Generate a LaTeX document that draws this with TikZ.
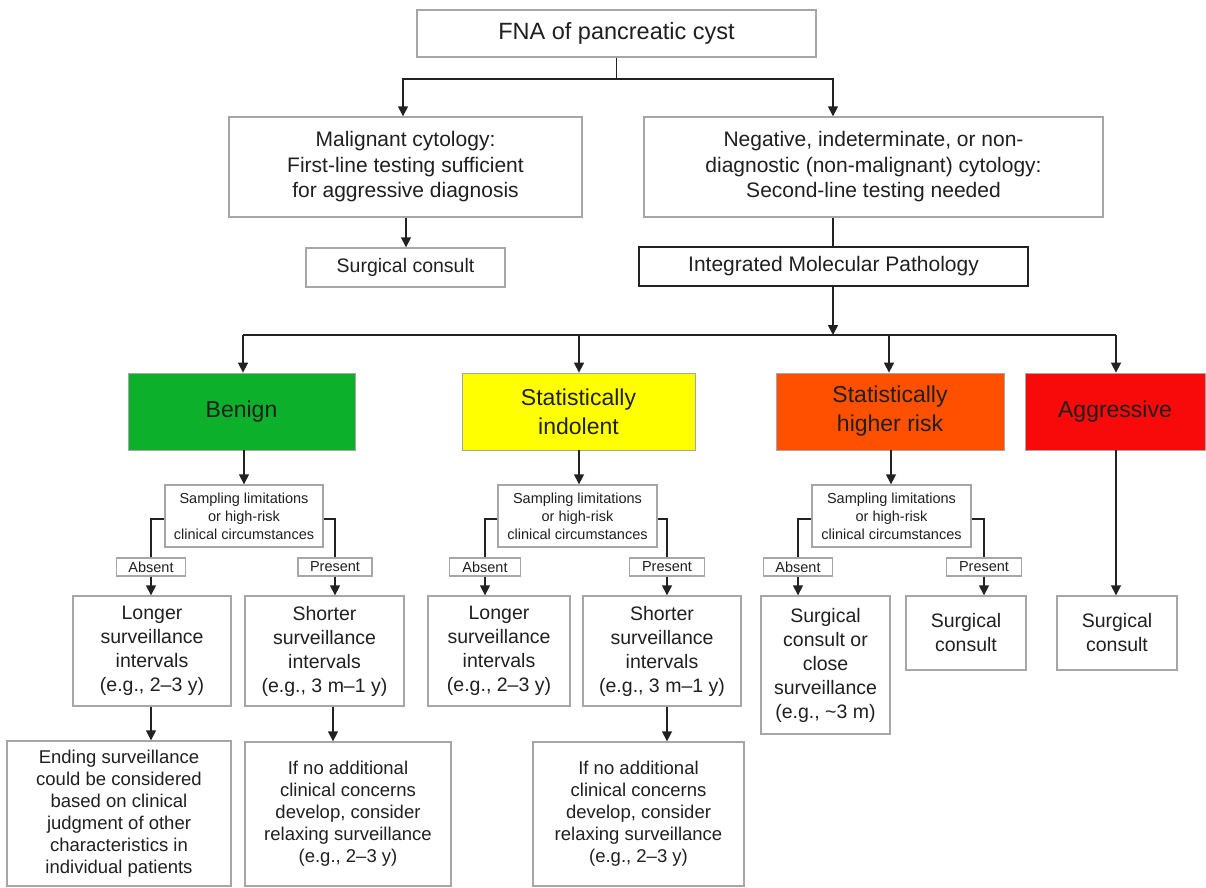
\documentclass[tikz,border=0pt]{standalone}
\usepackage{fontspec}
\setmainfont{Liberation Sans}
\usetikzlibrary{arrows.meta}
\definecolor{bord}{HTML}{A6A6A6}
\definecolor{txt}{HTML}{202020}
\definecolor{benigncol}{HTML}{0CB02A}
\definecolor{indolcol}{HTML}{FFFF00}
\definecolor{highcol}{HTML}{FF5000}
\definecolor{aggrcol}{HTML}{F80A0A}
\definecolor{linecol}{HTML}{222222}
\begin{document}
\begin{tikzpicture}[x=1pt,y=-1pt,
  box/.style={draw=bord, line width=1.4pt, fill=white, align=center, inner sep=0pt, text=txt},
  col/.style={draw=black!35, line width=0.8pt, align=center, inner sep=0pt, text=txt, font=\fontsize{23}{29}\selectfont},
  sz/.style 2 args={minimum width=#1pt, minimum height=#2pt},
  fA/.style={font=\fontsize{23.5}{28}\selectfont},
  fB/.style={font=\fontsize{21}{25.5}\selectfont},
  fC/.style={font=\fontsize{19.5}{24}\selectfont},
  fD/.style={font=\fontsize{18.5}{22}\selectfont},
  fS/.style={font=\fontsize{14.5}{18}\selectfont},
  conn/.style={draw=linecol, line width=1.6pt},
  arr/.style={conn, -{Triangle[width=10pt,length=10pt]}}
]
\fill[white] (0,0) rectangle (1206,887);
\useasboundingbox (0,0) rectangle (1206,887);

% top
\node[box,fA,sz={399}{47}] (fna) at (616.5,33.5) {FNA of pancreatic cyst};
\node[box,fB,sz={353}{100}] (mal) at (405.5,167) {Malignant cytology:\\First-line testing sufficient\\for aggressive diagnosis};
\node[box,fB,sz={459}{100}] (neg) at (873.5,167) {Negative, indeterminate, or non-\\diagnostic (non-malignant) cytology:\\Second-line testing needed};
\node[box,fC,sz={199}{39}] (surg) at (405.5,267.5) {Surgical consult};
\node[box,fB,draw=linecol,sz={389}{39}] (imp) at (833.5,266.5) {Integrated Molecular Pathology};

\coordinate (jl) at (403,79);
\coordinate (jr) at (833,79);
\coordinate (jm) at (406,0);
\draw[arr] (fna.south) |- (jl) -- (jl |- mal.north);
\draw[arr] (fna.south) |- (jr) -- (jr |- neg.north);
\draw[arr] (jm |- mal.south) -- (jm |- surg.north);
\draw[conn] (jr |- neg.south) -- (jr |- imp.north);

% category boxes
\node[col,fill=benigncol,sz={227}{77}] (ben) at (241.5,411.5) {Benign};
\node[col,fill=indolcol,sz={233}{77}] (ind) at (578.5,411.5) {Statistically\\indolent};
\node[col,fill=highcol,sz={228}{77}] (hig) at (890,411.5) {Statistically\\higher risk};
\node[col,fill=aggrcol,sz={180}{77}] (agg) at (1115,411.5) {Aggressive};

\coordinate (hl) at (243,335);
\coordinate (hi) at (579,335);
\coordinate (hh) at (889,335);
\coordinate (hr) at (1116,335);
\coordinate (hs) at (891,0);
\draw[arr] (jr |- imp.south) -- (jr |- hl);
\draw[conn] (hl) -- (hr);
\draw[arr] (hl) -- (hl |- ben.north);
\draw[arr] (hi) -- (hi |- ind.north);
\draw[arr] (hh) -- (hh |- hig.north);
\draw[arr] (hr) -- (hr |- agg.north);

% sampling boxes
\node[box,fS,sz={158}{62}] (s1) at (244,516) {Sampling limitations\\or high-risk\\clinical circumstances};
\node[box,fS,sz={159}{62}] (s2) at (577.5,516) {Sampling limitations\\or high-risk\\clinical circumstances};
\node[box,fS,sz={159}{62}] (s3) at (891.5,516) {Sampling limitations\\or high-risk\\clinical circumstances};
\draw[arr] (s1.north |- ben.south) -- (s1.north);
\draw[arr] (hi |- ind.south) -- (hi |- s2.north);
\draw[arr] (hs |- hig.south) -- (hs |- s3.north);

% absent / present
\node[box,fS,sz={69}{18}] (a1) at (151,567) {Absent};
\node[box,fS,sz={74}{18}] (p1) at (335,567) {Present};
\node[box,fS,sz={71}{18}] (a2) at (485,567) {Absent};
\node[box,fS,sz={75}{18}] (p2) at (667,567) {Present};
\node[box,fS,sz={69}{18}] (a3) at (798,567) {Absent};
\node[box,fS,sz={75}{18}] (p3) at (984,567) {Present};
\draw[conn] ([yshift=-3pt]s1.west) -| (a1.north);
\draw[conn] ([yshift=-3pt]s1.east) -| (p1.north);
\draw[conn] ([yshift=-3pt]s2.west) -| (a2.north);
\draw[conn] ([yshift=-3pt]s2.east) -| (p2.north);
\draw[conn] ([yshift=-3pt]s3.west) -| (a3.north);
\draw[conn] ([yshift=-3pt]s3.east) -| (p3.north);

% result boxes
\node[box,fC,sz={158}{110}] (l1) at (152,651) {Longer\\surveillance\\intervals\\(e.g., 2–3 y)};
\node[box,fC,sz={159}{110}] (r1) at (324.5,651) {Shorter\\surveillance\\intervals\\(e.g., 3 m–1 y)};
\node[box,fC,sz={142}{110}] (l2) at (499,651) {Longer\\surveillance\\intervals\\(e.g., 2–3 y)};
\node[box,fC,sz={158}{110}] (r2) at (662,651) {Shorter\\surveillance\\intervals\\(e.g., 3 m–1 y)};
\node[box,fC,sz={129}{138}] (sc) at (825.5,665) {Surgical\\consult or\\close\\surveillance\\(e.g., \textasciitilde 3 m)};
\node[box,fC,sz={120}{74}] (sc2) at (966,633) {Surgical\\consult};
\node[box,fC,sz={120}{74}] (sc3) at (1117,633) {Surgical\\consult};

\draw[arr] (a1.south) -- (a1.south |- l1.north);
\draw[arr] (p1.south) -- (p1.south |- r1.north);
\draw[arr] (a2.south) -- (a2.south |- l2.north);
\draw[arr] (p2.south) -- (p2.south |- r2.north);
\draw[arr] (a3.south) -- (a3.south |- sc.north);
\draw[arr] (p3.south) -- (p3.south |- sc2.north);
\draw[arr] (hr |- agg.south) -- (hr |- sc3.north);

% bottom boxes
\node[box,fD,sz={224}{145}] (e1) at (119,813.5) {Ending surveillance\\could be considered\\based on clinical\\judgment of other\\characteristics in\\individual patients};
\node[box,fD,sz={206}{144}] (n1) at (348,814) {If no additional\\clinical concerns\\develop, consider\\relaxing surveillance\\(e.g., 2–3 y)};
\node[box,fD,sz={211}{144}] (n2) at (638.5,814) {If no additional\\clinical concerns\\develop, consider\\relaxing surveillance\\(e.g., 2–3 y)};

\draw[arr] (a1.south |- l1.south) -- (a1.south |- e1.north);
\draw[arr] ([xshift=-2pt]p1.south |- r1.south) -- ([xshift=-2pt]p1.south |- n1.north);
\draw[arr] (p2.south |- r2.south) -- (p2.south |- n2.north);
\end{tikzpicture}
\end{document}
